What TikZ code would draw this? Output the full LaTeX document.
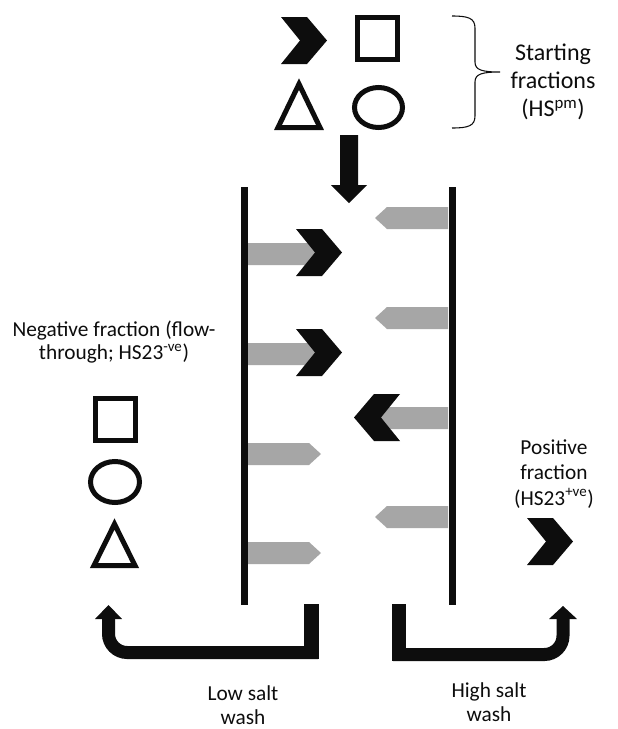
\documentclass[tikz,border=0pt]{standalone}
\usepackage{fontspec}
\setmainfont{Carlito}
\definecolor{inkblack}{RGB}{13,13,13}
\definecolor{arrowgray}{RGB}{166,166,166}
\begin{document}
\begin{tikzpicture}[x=0.75pt,y=-0.75pt,
  outline/.style={draw=inkblack, line width=3.75pt, miter limit=10},
  colline/.style={draw=inkblack, line width=5.25pt},
  uarrow/.style={draw=inkblack, line width=9.75pt, rounded corners=14pt},
  lbl/.style={align=center, inner sep=0pt, text=inkblack, font=\fontsize{16}{16.5}\selectfont},
  chevR/.pic={\fill[inkblack] (0,0) -- (26,0) -- (46,23.5) -- (26,47) -- (0,47) -- (19,23.5) -- cycle;},
  grayR/.pic={\fill[arrowgray] (0,0) -- (61,0) -- (73,11) -- (61,22) -- (0,22) -- cycle;}
]
\useasboundingbox[fill=white] (0,0) rectangle (618,729);

% starting fractions
\pic at (281,17) {chevR};
\draw[outline] (357.5,17.5) rectangle (397.5,59.5);
\draw[outline] (299,84) -- (320,127.5) -- (278,127.5) -- cycle;
\draw[outline] (378.5,107.5) ellipse [x radius=24, y radius=20];
\draw[inkblack, line width=0.8pt] (452,16) .. controls (468,16) and (475,18) .. (475,28) -- (475,62)
  .. controls (475,70) and (482,72) .. (500,72) .. controls (482,72) and (475,74) .. (475,82)
  -- (475,116) .. controls (475,126) and (468,128) .. (452,128);
\node[lbl, font=\fontsize{18}{21}\selectfont] (start) at (553,82) {Starting\\fractions\\(HS\textsuperscript{pm})};

% down arrow
\fill[inkblack] (340,135) -- (358,135) -- (358,185) -- (367,185) -- (349,203) -- (331,185) -- (340,185) -- cycle;

% columns
\draw[colline] (244.5,187) -- (244.5,605);
\draw[colline] (452,187) -- (452,605);

% gray arrows
\pic at (248,243) {grayR};
\pic at (248,343) {grayR};
\pic at (248,443) {grayR};
\pic at (248,542) {grayR};
\pic[xscale=-1] at (448,207) {grayR};
\pic[xscale=-1] at (448,307) {grayR};
\pic[xscale=-1] at (448,407) {grayR};
\pic[xscale=-1] at (448,506) {grayR};
% black chevrons
\pic at (296,229) {chevR};
\pic at (296,329) {chevR};
\pic[xscale=-1] at (400,394) {chevR};

% negative fraction
\node[lbl, font=\fontsize{16}{17.5}\selectfont] (neg) at (114,342) {Negative fraction (flow-\\through; HS23\textsuperscript{-ve})};
\draw[outline] (95.5,398.5) rectangle (135.5,440.5);
\draw[outline] (115,482) ellipse [x radius=24.5, y radius=20.5];
\draw[outline] (114.5,524) -- (135,565.5) -- (94,565.5) -- cycle;

% positive fraction
\node[lbl, font=\fontsize{16}{19}\selectfont] (pos) at (554,474) {Positive\\fraction\\(HS23\textsuperscript{+ve})};
\pic at (527,518) {chevR};

% bottom U arrows
\fill[inkblack] (304,604) rectangle (319,659);
\draw[uarrow] (318,652.5) -- (108.5,652.5) -- (108.5,618);
\fill[inkblack] (95,619) -- (108.5,605) -- (122,619) -- cycle;
\fill[inkblack] (392,604) rectangle (406,661);
\draw[uarrow] (393,654.5) -- (563,654.5) -- (563,618);
\fill[inkblack] (549,619) -- (563,606) -- (577,619) -- cycle;

\node[lbl, font=\fontsize{16}{17.5}\selectfont] (low) at (243,705) {Low salt\\wash};
\node[lbl, font=\fontsize{16}{17.5}\selectfont] (high) at (489,702) {High salt\\wash};
\end{tikzpicture}
\end{document}
